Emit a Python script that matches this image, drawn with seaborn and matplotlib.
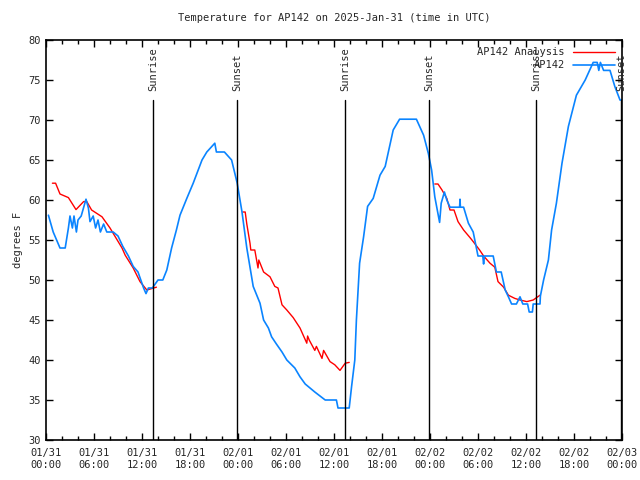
import pandas as pd
import seaborn as sns
import matplotlib.pyplot as plt
import matplotlib.dates as mdates
import numpy as np

sns.set_style("ticks")
plt.rcParams['font.family'] = ['DejaVu Sans Mono']

# hours since 2025-01-31 00:00 UTC
obs_hours = [0.3, 0.9, 1.75, 2.4, 2.8, 3.0, 3.3, 3.5, 3.8, 4.0, 4.4, 5.0, 5.3, 5.5, 5.9, 6.2, 6.5, 6.8,
             7.2, 7.6, 8.4, 9.0, 9.6, 10.3, 10.9, 11.5, 12.2, 12.5, 12.8, 13.3, 14.0, 14.6,
             15.1, 15.7, 16.3, 16.75, 17.6, 18.4, 19.5, 20.1, 21.1, 21.3, 22.3, 23.2, 23.9,
             24.5, 25.1, 25.9, 26.75, 27.2, 27.8, 28.2, 28.8, 29.5, 30.1, 31.1, 31.75, 32.4,
             33.6, 34.9, 36.3, 36.5, 37.9, 38.2, 38.6, 38.8, 39.2, 39.7, 40.2, 40.9, 41.75,
             42.4, 43.4, 44.2, 46.3, 47.2, 47.8, 48.2, 48.6, 49.2, 49.4, 49.8, 50.1, 50.5,
             51.7, 51.75, 51.8, 52.2, 52.8, 53.4, 53.8, 54.0, 54.6, 54.7, 54.8, 55.9, 56.3,
             56.9, 57.4, 57.8, 58.2, 58.8, 59.25, 59.6, 60.2, 60.4, 60.8, 60.9, 61.75, 61.8,
             62.2, 62.8, 63.2, 63.8, 64.5, 65.3, 66.3, 67.4, 68.4, 68.9, 69.1, 69.3, 69.7,
             70.5, 71.1, 71.75, 72.0]
obs_temp = [58.1, 56.0, 54.0, 54.0, 56.5, 58.0, 56.5, 58.0, 56.0, 57.5, 58.0, 60.1, 59.0, 57.3, 58.0, 56.5, 57.5, 56.0,
            57.0, 56.0, 56.0, 55.5, 54.2, 53.0, 51.7, 51.0, 49.0, 48.3, 49.0, 49.0, 50.0, 50.0,
            51.25, 54.0, 56.25, 58.1, 60.2, 62.1, 65.0, 66.0, 67.1, 66.0, 66.0, 65.0, 62.1,
            58.5, 54.0, 49.2, 47.1, 45.0, 44.0, 42.9, 42.0, 41.0, 40.0, 39.0, 37.9, 37.0,
            36.0, 35.0, 35.0, 34.0, 34.0, 36.7, 40.0, 45.0, 52.1, 55.4, 59.2, 60.2, 63.1,
            64.2, 68.75, 70.1, 70.1, 68.1, 65.8, 63.75, 60.4, 57.2, 59.6, 61.0, 60.0, 59.1,
            59.1, 60.1, 59.1, 59.1, 57.1, 56.0, 54.0, 53.0, 53.0, 52.0, 53.0, 53.0, 51.0,
            51.0, 48.75, 47.9, 47.0, 47.0, 47.9, 47.0, 47.0, 46.0, 46.0, 47.0, 47.0, 48.0,
            50.0, 52.5, 56.25, 59.6, 64.6, 69.2, 73.1, 75.0, 77.2, 77.2, 76.2, 77.2, 76.2,
            76.2, 74.2, 72.5, 72.5]

# analysis runs (three separate pieces)
ana_hours_1 = [0.8, 1.2, 1.75, 2.8, 3.75, 4.7, 5.1, 5.7, 7.0, 8.0, 9.5, 9.9, 10.9, 11.75, 12.6, 13.8]
ana_temp_1 = [62.1, 62.1, 60.75, 60.3, 58.8, 59.8, 59.8, 58.75, 57.9, 56.5, 54.0, 53.1, 51.5, 49.8, 48.75, 49.1]
ana_hours_2 = [24.6, 24.9, 25.1, 25.5, 25.6, 26.1, 26.5, 26.6, 27.2, 28.0, 28.6, 29.0, 29.5, 30.1,
               30.9, 31.75, 32.6, 32.7, 32.9, 33.6, 33.8, 34.5, 34.7, 35.5, 36.1, 36.75, 37.4, 37.9]
ana_temp_2 = [58.5, 58.5, 57.0, 54.6, 53.75, 53.75, 51.5, 52.5, 51.0, 50.4, 49.2, 49.0, 46.9, 46.25,
              45.3, 44.0, 42.1, 43.0, 42.5, 41.2, 41.7, 40.2, 41.2, 39.8, 39.4, 38.7, 39.6, 39.7]
ana_hours_3 = [48.6, 49.0, 49.5, 50.1, 50.5, 51.0, 51.5, 52.2, 53.0, 53.4, 54.2, 54.7, 55.5, 56.1,
               56.5, 57.2, 57.8, 58.6, 59.25, 60.1, 60.9, 61.75]
ana_temp_3 = [62.0, 62.0, 61.25, 60.2, 58.75, 58.75, 57.3, 56.25, 55.3, 54.8, 53.75, 53.0, 52.1, 51.6,
              49.8, 49.1, 48.1, 47.7, 47.5, 47.3, 47.5, 48.1]

sun_hours = [13.375, 23.875, 37.375, 47.875, 61.25, 71.875]
sun_labels = ["Sunrise", "Sunset", "Sunrise", "Sunset", "Sunrise", "Sunset"]

base = pd.Timestamp("2025-01-31 00:00")
to_time = lambda h: base + pd.to_timedelta(np.array(h), unit="h")

obs = pd.DataFrame({"time": to_time(obs_hours), "temp": obs_temp})
ana_parts = [(ana_hours_1, ana_temp_1), (ana_hours_2, ana_temp_2), (ana_hours_3, ana_temp_3)]

fig = plt.figure(figsize=(6.4, 4.8), dpi=100)
ax = fig.add_axes([46 / 640, 40 / 480, 576 / 640, 400 / 480])

for i, (hh, tt) in enumerate(ana_parts):
    part = pd.DataFrame({"time": to_time(hh), "temp": tt})
    sns.lineplot(data=part, x="time", y="temp", color="red", lw=1, ax=ax,
                 label="AP142 Analysis" if i == 0 else None)
sns.lineplot(data=obs, x="time", y="temp", color="#0a84ff", lw=1.2, ax=ax, label="AP142")

for h, lab in zip(sun_hours, sun_labels):
    t = to_time([h])[0]
    ax.plot([t, t], [30, 72.5], color="black", lw=1)
    ax.text(t, 73.6, lab, rotation=90, ha="center", va="bottom", fontsize=7.5)

ax.set_xlim(base, base + pd.Timedelta(hours=72))
ax.set_ylim(30, 80)
ax.set_yticks(range(30, 81, 5))
ax.xaxis.set_major_locator(mdates.HourLocator(byhour=[0, 6, 12, 18]))
ax.xaxis.set_minor_locator(mdates.HourLocator(interval=2))
ax.xaxis.set_major_formatter(mdates.DateFormatter("%m/%d\n%H:%M"))
ax.tick_params(which="both", direction="in", top=True, right=True, labelsize=7.5, color="black")
ax.tick_params(which="major", length=5, width=1)
ax.tick_params(which="minor", length=3, width=1)
ax.tick_params(axis="x", pad=6)
for s in ax.spines.values():
    s.set_color("black")
    s.set_linewidth(1.2)

ax.set_xlabel("")
ax.set_ylabel("degrees F", fontsize=7.5)
ax.set_title("Temperature for AP142 on 2025-Jan-31 (time in UTC)", fontsize=7.5, pad=14)

ax.legend(loc="upper right", frameon=False, markerfirst=False, fontsize=7.5,
          handlelength=4, borderaxespad=0.3, labelspacing=0.3)

fig.savefig("out.png", dpi=100)
